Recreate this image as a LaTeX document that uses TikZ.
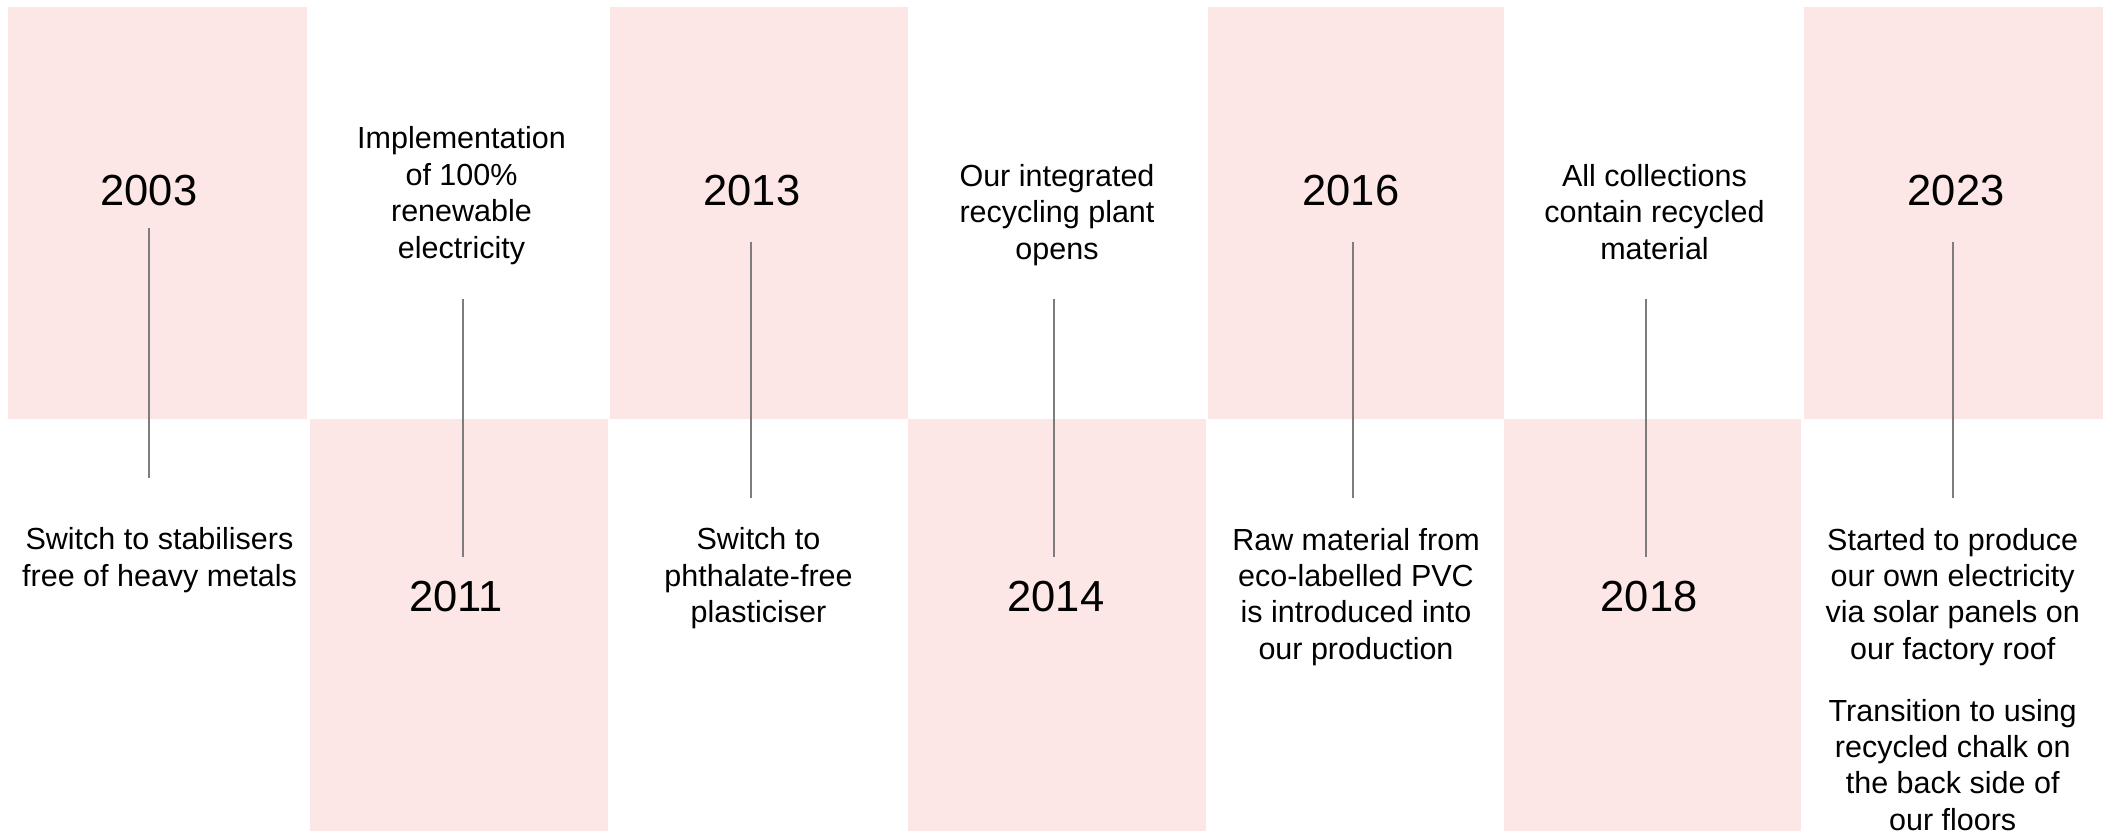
\documentclass[tikz,border=0pt]{standalone}
\usepackage{fontspec}
\setmainfont{Liberation Sans}
\definecolor{blush}{RGB}{253,230,230}
\definecolor{stemgray}{RGB}{125,125,125}

\begin{document}
\begin{tikzpicture}[x=0.5pt,y=-0.5pt,
  year/.style={inner sep=0pt, font=\fontsize{21.75}{26}\selectfont},
  blurb/.style={inner sep=0pt, anchor=north, align=center, font=\fontsize{15.25}{18.25}\selectfont},
  stem/.style={draw=stemgray, line width=1pt}]
\useasboundingbox (0,0) rectangle (2111,833);
% panels
\fill [blush] (8,7) rectangle (307,419);
\fill [blush] (310,419) rectangle (608,831);
\fill [blush] (610,7) rectangle (908,419);
\fill [blush] (908,419) rectangle (1206,831);
\fill [blush] (1208,7) rectangle (1504,419);
\fill [blush] (1504,419) rectangle (1801,831);
\fill [blush] (1804,7) rectangle (2103,419);
% years
\node [year] (y2003) at (149,191) {2003};
\node [year] (y2011) at (456,597) {2011};
\node [year] (y2013) at (752,191) {2013};
\node [year] (y2014) at (1056,597) {2014};
\node [year] (y2016) at (1351,191) {2016};
\node [year] (y2018) at (1649,597) {2018};
\node [year] (y2023) at (1956,191) {2023};
% texts
\node [blurb] (t2003) at (159.5,527.5) {Switch to stabilisers\\free of heavy metals};
\node [blurb] (t2011) at (461.5,126.5) {Implementation\\of 100\%\\renewable\\electricity};
\node [blurb] (t2013) at (758.5,527.5) {Switch to\\phthalate-free\\plasticiser};
\node [blurb] (t2014) at (1057,164) {Our integrated\\recycling plant\\opens};
\node [blurb] (t2016) at (1356,527.5) {Raw material from\\eco-labelled PVC\\is introduced into\\our production};
\node [blurb] (t2018) at (1654.5,164) {All collections\\contain recycled\\material};
\node [blurb] (t2023) at (1952.7,527.5) {Started to produce\\our own electricity\\via solar panels on\\our factory roof};
\node [blurb] (t2023b) at (1952.7,698.5) {Transition to using\\recycled chalk on\\the back side of\\our floors};
% stems
\coordinate (s2003a) at (148.7,228.5);  \coordinate (s2003b) at (148.7,478);
\coordinate (s2011a) at (463.4,299);    \coordinate (s2011b) at (463.4,557);
\coordinate (s2013a) at (750.6,241.8);  \coordinate (s2013b) at (750.6,498.4);
\coordinate (s2014a) at (1054,299);     \coordinate (s2014b) at (1054,557);
\coordinate (s2016a) at (1353.4,241.8); \coordinate (s2016b) at (1353.4,498.4);
\coordinate (s2018a) at (1646,299);     \coordinate (s2018b) at (1646,557);
\coordinate (s2023a) at (1952.5,241.8); \coordinate (s2023b) at (1952.5,498.4);
\draw [stem] (s2003a) -- (s2003b);
\draw [stem] (s2011a) -- (s2011b);
\draw [stem] (s2013a) -- (s2013b);
\draw [stem] (s2014a) -- (s2014b);
\draw [stem] (s2016a) -- (s2016b);
\draw [stem] (s2018a) -- (s2018b);
\draw [stem] (s2023a) -- (s2023b);
\end{tikzpicture}
\end{document}
